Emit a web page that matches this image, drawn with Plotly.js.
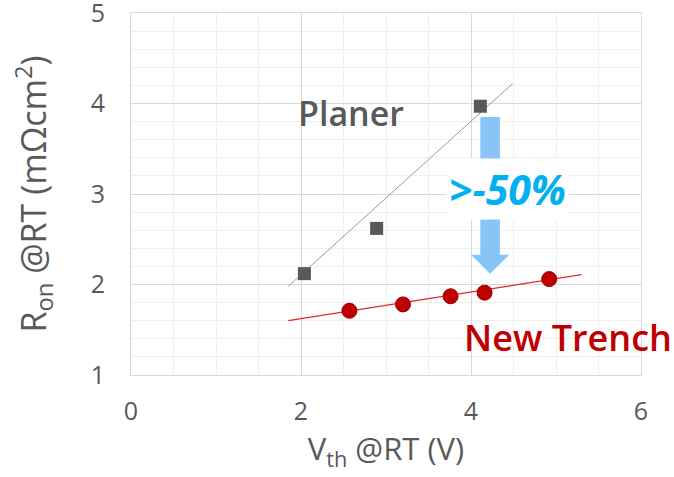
<!DOCTYPE html>
<html>
<head>
<meta charset="utf-8">
<script src="https://cdn.plot.ly/plotly-3.0.1.min.js"></script>
<style>html,body{margin:0;padding:0;background:#fff;}#chart{width:674px;height:477px;}</style>
</head>
<body>
<div id="chart"></div>
<script>
// Planar devices
const planerVth = [2.04, 2.89, 4.11];
const planerRon = [2.12, 2.62, 3.97];
// New trench devices
const trenchVth = [2.57, 3.20, 3.76, 4.16, 4.92];
const trenchRon = [1.71, 1.78, 1.87, 1.91, 2.06];
// Trend line end points
const planerFitX = [1.85, 4.49];
const planerFitY = [1.98, 4.22];
const trenchFitX = [1.85, 5.30];
const trenchFitY = [1.60, 2.11];
// Reduction arrow (data coords)
const arrowX = 4.225;
const arrowTop = 3.85;
const arrowHeadBase = 2.33;
const arrowTip = 2.12;
const arrowShaftHalf = 0.115;
const arrowHeadHalf = 0.225;
// Labels
const xTicks = [0, 2, 4, 6];
const yTicks = [1, 2, 3, 4, 5];

const FONT = '"Open Sans", "Noto Sans", sans-serif';
const GRAY = '#595959';

const traces = [
  {x: planerFitX, y: planerFitY, mode: 'lines', line: {color: '#9a9a9a', width: 1}, hoverinfo: 'skip'},
  {x: trenchFitX, y: trenchFitY, mode: 'lines', line: {color: '#e02828', width: 1.2}, hoverinfo: 'skip'},
  {x: planerVth, y: planerRon, mode: 'markers', marker: {symbol: 'square', size: 13, color: '#595959'}},
  {x: trenchVth, y: trenchRon, mode: 'markers', marker: {symbol: 'circle', size: 15, color: '#c00000', line: {color: '#900000', width: 1}}}
];

const arrowPath = 'M ' + (arrowX - arrowShaftHalf) + ' ' + arrowTop +
  ' L ' + (arrowX + arrowShaftHalf) + ' ' + arrowTop +
  ' L ' + (arrowX + arrowShaftHalf) + ' ' + arrowHeadBase +
  ' L ' + (arrowX + arrowHeadHalf) + ' ' + arrowHeadBase +
  ' L ' + arrowX + ' ' + arrowTip +
  ' L ' + (arrowX - arrowHeadHalf) + ' ' + arrowHeadBase +
  ' L ' + (arrowX - arrowShaftHalf) + ' ' + arrowHeadBase + ' Z';

const layout = {
  width: 674, height: 477,
  margin: {l: 131, r: 33, t: 13, b: 102},
  paper_bgcolor: '#ffffff', plot_bgcolor: '#ffffff',
  showlegend: false,
  font: {family: FONT, color: GRAY},
  xaxis: {
    range: [0, 6], tickvals: xTicks, ticktext: xTicks.map(String),
    showgrid: true, gridcolor: '#d9d9d9', gridwidth: 1,
    minor: {dtick: 0.5, showgrid: true, gridcolor: '#efefef', gridwidth: 1},
    showline: true, linecolor: '#d9d9d9', linewidth: 1, mirror: true,
    zeroline: false,
    ticks: 'outside', ticklen: 14, tickcolor: 'rgba(0,0,0,0)',
    tickfont: {size: 25, color: GRAY, family: FONT},
    ticklabeloverflow: 'allow',
    title: {text: 'V<sub>th</sub> @RT (V)', font: {size: 31, color: GRAY, family: FONT}, standoff: 11},
    automargin: false, fixedrange: true
  },
  yaxis: {
    range: [1, 5], tickvals: yTicks, ticktext: yTicks.map(String),
    showgrid: true, gridcolor: '#d9d9d9', gridwidth: 1,
    minor: {dtick: 0.2, showgrid: true, gridcolor: '#efefef', gridwidth: 1},
    showline: true, linecolor: '#d9d9d9', linewidth: 1, mirror: true,
    zeroline: false,
    ticks: 'outside', ticklen: 20, tickcolor: 'rgba(0,0,0,0)',
    tickfont: {size: 25, color: GRAY, family: FONT},
    ticklabeloverflow: 'allow',
    title: {text: 'R<sub>on</sub> @RT (mΩcm<sup>2</sup>)', font: {size: 34, color: GRAY, family: FONT}, standoff: 33},
    automargin: false, fixedrange: true
  },
  shapes: [
    {type: 'path', xref: 'x', yref: 'y', path: arrowPath, fillcolor: '#88c4f8', line: {width: 0}, layer: 'above'}
  ],
  annotations: [
    {x: 4.43, y: 3.055, xref: 'x', yref: 'y', text: '<b><i>&gt;-50%</i></b>', showarrow: false,
     font: {size: 41, color: '#00b0f0', family: FONT}, bgcolor: '#ffffff', borderpad: 2},
    {x: 1.94, y: 3.90, xref: 'x', yref: 'y', text: 'Planer', showarrow: false, xanchor: 'left',
     font: {size: 34, color: GRAY, family: FONT, weight: 600}},
    {x: 3.89, y: 1.41, xref: 'x', yref: 'y', text: 'New Trench', showarrow: false, xanchor: 'left',
     font: {size: 36, color: '#c00000', family: FONT, weight: 600}}
  ]
};

Plotly.newPlot('chart', traces, layout, {displayModeBar: false, staticPlot: true});
</script>
</body>
</html>
